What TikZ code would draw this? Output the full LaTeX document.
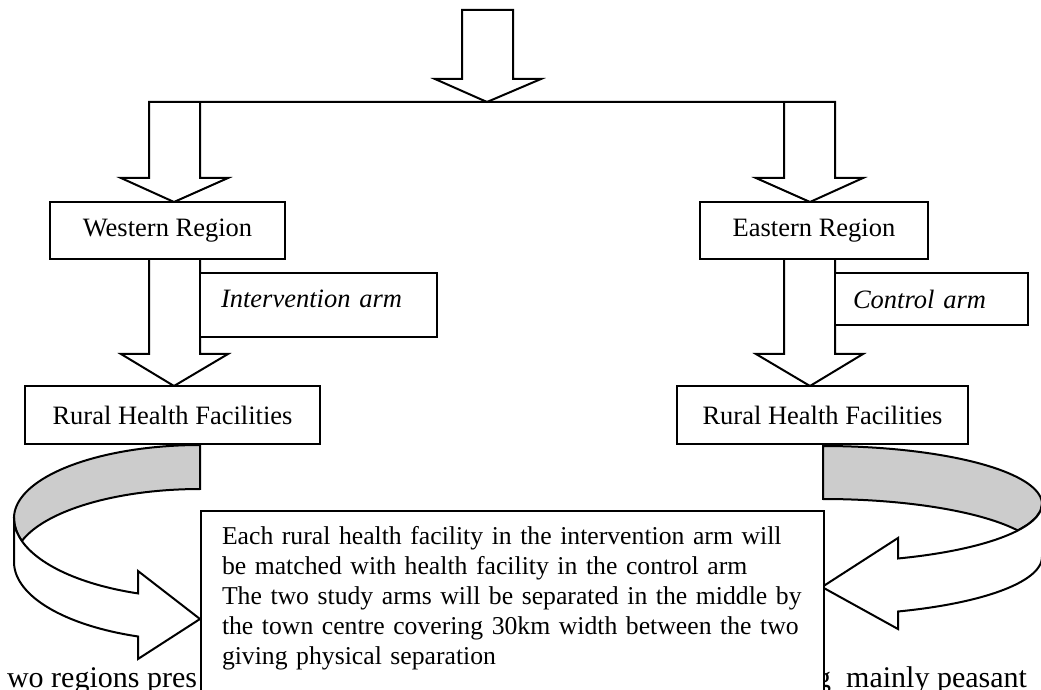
\documentclass[tikz,border=0pt]{standalone}
\usepackage{fontspec}
\setmainfont{Liberation Serif}
\usetikzlibrary{positioning}

\begin{document}
\begin{tikzpicture}[x=0.5pt, y=-0.5pt, line width=1pt, every node/.style={inner sep=0pt, font=\fontsize{13.25}{15}\selectfont}, align=center]
    \useasboundingbox (0,0) rectangle (1041,690);
    \clip (0,0) rectangle (1041,690);

    % Split arrows
    \draw (462,10) -- (513,10) -- (513,79) -- (541,79) -- (487,102) -- (435,79) -- (462,79) -- cycle;
    \draw (200,102) -- (200,178) -- (228,178) -- (174,202) -- (121,178) -- (149,178) -- (149,102) -- (835,102) -- (835,178) -- (863,178) -- (810,202) -- (756,178) -- (784,178) -- (784,102);

    % Regions
    \node (western) [rectangle, draw, fill=white, minimum width=117.5pt, minimum height=28.5pt] at (167.5,230.5) {Western Region};
    \node (eastern) [rectangle, draw, fill=white, minimum width=114pt, minimum height=28.5pt] at (814,230.5) {Eastern Region};

    % Down arrows
    \draw (149,259) -- (149,354) -- (121,354) -- (174,386) -- (228,354) -- (200,354) -- (200,259);
    \draw (784,259) -- (784,354) -- (756,354) -- (810,386) -- (863,354) -- (835,354) -- (835,259);

    % Study arms
    \node (intervention) [rectangle, draw, fill=white, minimum height=32pt, text width=97.5pt, inner xsep=10.5pt, align=left, text depth=6pt, font=\fontsize{13.25}{15}\selectfont\itshape] at (318.5,305) {Intervention arm};
    \node (control) [rectangle, draw, fill=white, minimum height=26pt, text width=78.5pt, inner xsep=9pt, align=left, font=\fontsize{13.25}{15}\selectfont\itshape] at (931.5,299) {Control arm};

    % Facilities
    \node (ruralW) [rectangle, draw, fill=white, minimum width=147.5pt, minimum height=29pt, below=62.5pt of western, xshift=2.5pt] {Rural Health Facilities};
    \node (ruralE) [rectangle, draw, fill=white, minimum width=145.5pt, minimum height=29pt, below=62.5pt of eastern, xshift=4.25pt] {Rural Health Facilities};

    % Turn arrows
    \filldraw[fill=gray!40] plot[domain=270:180, samples=40] ({200+186*cos(\x)}, {518+73*sin(\x)})
        -- plot[domain=180:163.3, samples=5] ({200+186*cos(\x)}, {518+80*sin(\x)})
        -- plot[domain=196.7:270, samples=40] ({200+186*cos(\x)}, {562+73*sin(\x)}) -- cycle;
    \filldraw[fill=white] plot[domain=180:109.47, samples=40] ({200+186*cos(\x)}, {518+80*sin(\x)})
        -- (138,571) -- (200,619) -- (138,659)
        -- plot[domain=109.47:180, samples=40] ({200+186*cos(\x)}, {562+79*sin(\x)}) -- cycle;
    \filldraw[fill=gray!40] plot[domain=270:360, samples=40] ({823+219*cos(\x)}, {504+58*sin(\x)})
        -- plot[domain=0:27.1, samples=5] ({823+219*cos(\x)}, {504+58*sin(\x)})
        -- plot[domain=332.9:270, samples=40] ({823+219*cos(\x)}, {557+58*sin(\x)}) -- cycle;
    \filldraw[fill=white] plot[domain=0:69.97, samples=40] ({823+219*cos(\x)}, {504+58*sin(\x)})
        -- (898,538) -- (822,587) -- (898,629)
        -- plot[domain=69.97:0, samples=40] ({823+219*cos(\x)}, {557+58*sin(\x)}) -- cycle;

    % Text behind the note
    \node (twoRegions) [anchor=base east, font=\fontsize{15}{18}\selectfont] at (198,687) {wo regions pres};
    \node (peasant) [anchor=base east, font=\fontsize{15}{18}\selectfont] at (1028,687) {g\enspace mainly peasant};

    % Matching note
    \node (matching) [rectangle, draw, fill=white, anchor=north west, minimum width=311.5pt, minimum height=95pt] at (200,510) {};
    \node (matchtext) [anchor=base west, text width=300pt, align=left, font=\fontsize{12.85}{15}\selectfont] at (221,545) {Each rural health facility in the intervention arm will\\be matched with health facility in the control arm\\The two study arms will be separated in the middle by\\the town centre covering 30km width between the two\\giving physical separation};
\end{tikzpicture}
\end{document}
